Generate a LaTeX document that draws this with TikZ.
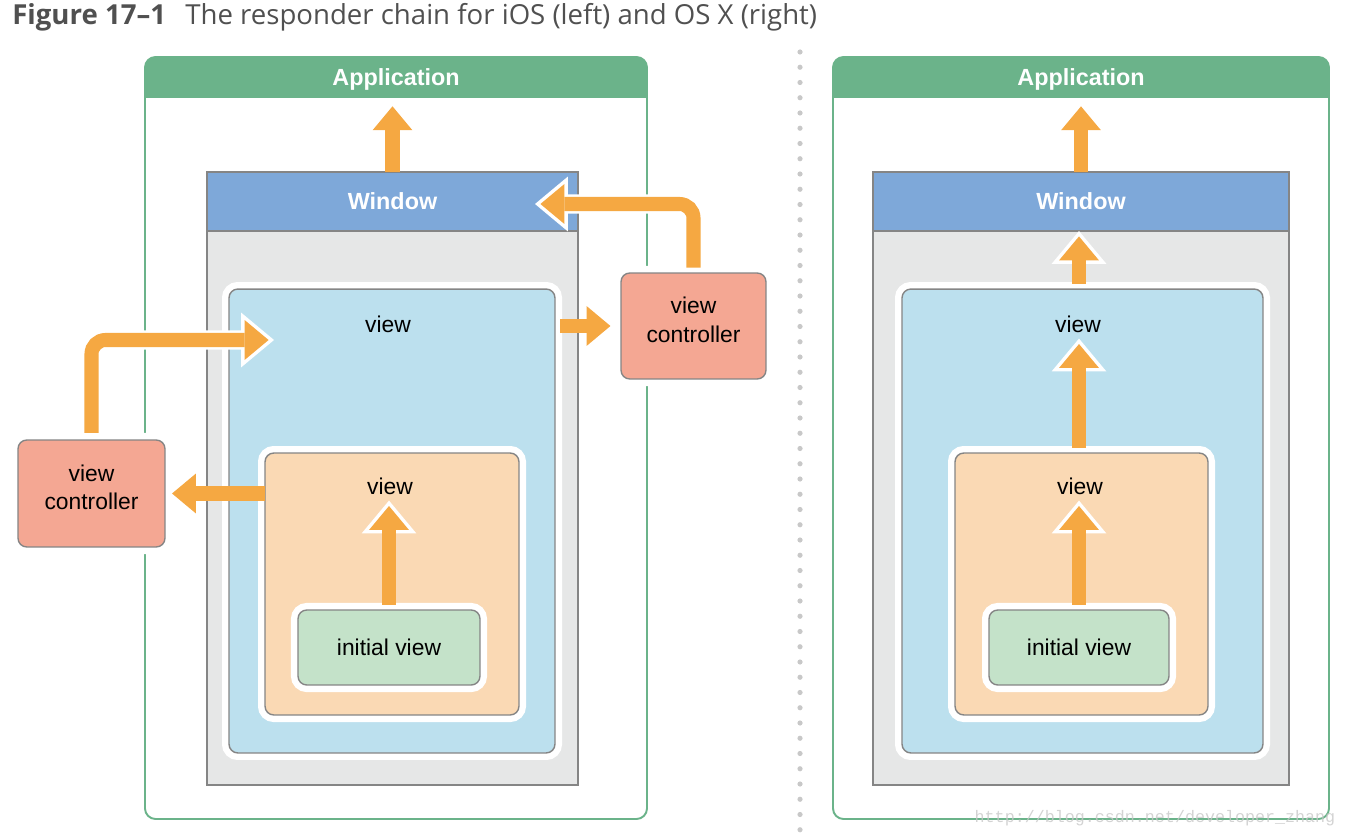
\documentclass[tikz,border=0pt]{standalone}
\usepackage{fontspec}
\setmainfont{Liberation Sans}
\newfontfamily\titlefont{Open Sans}
\newfontfamily\markfont{Liberation Mono}
\usetikzlibrary{arrows.meta}

\definecolor{appgreen}{HTML}{6BB38A}
\definecolor{winblue}{HTML}{7EA8D9}
\definecolor{wingray}{HTML}{E6E7E7}
\definecolor{boxgray}{HTML}{858585}
\definecolor{viewblue}{HTML}{BCE0EE}
\definecolor{peach}{HTML}{FAD9B4}
\definecolor{initgreen}{HTML}{C4E2C9}
\definecolor{salmon}{HTML}{F4A793}
\definecolor{arrowc}{HTML}{F5A842}
\definecolor{dotgray}{HTML}{C8C8C8}
\definecolor{titlegray}{HTML}{505050}

\newcommand{\vclabel}{\raisebox{2pt}[\height][\depth]{\begin{tabular}{@{}c@{}}view\\controller\end{tabular}}}

\tikzset{
  appframe/.style={draw=appgreen, line width=1.1pt, rounded corners=6pt},
  apptext/.style={text=white, font=\bfseries\fontsize{13.3}{16}\selectfont, minimum height=1.08cm, inner sep=0pt},
  winbody/.style={draw=boxgray, fill=wingray, line width=1.1pt},
  winhead/.style={draw=boxgray, fill=winblue, line width=1.1pt, text=white, font=\bfseries\fontsize{13.3}{16}\selectfont, minimum height=1.18cm, inner sep=0pt, outer sep=0pt},
  box/.style={draw=boxgray, line width=0.8pt, rounded corners=5pt, inner sep=0pt, outer sep=0pt, align=center,
    font=\fontsize{13}{16.2}\selectfont, preaction={draw=white, line width=8pt}},
  txt/.style={font=\fontsize{13}{16}\selectfont},
  flow/.style={draw=arrowc, line width=8pt, -{Triangle[width=22.7pt,length=13.6pt,line width=0pt]}},
  flowhalo/.style={flow, shorten >=3.1pt, preaction={draw=white, line width=#1, shorten >=0pt,
    -{Triangle[width=31.2pt,length=18.7pt,line width=0pt]}}},
  flowhalo/.default=8pt
}

\begin{document}
\begin{tikzpicture}[x=0.02cm,y=-0.02cm]
\useasboundingbox (0,0) rectangle (1346,838);
\node[anchor=base west, inner sep=0pt, text=titlegray, font=\titlefont\fontsize{15.7}{18}\selectfont] (title) at (12,24.5)
  {\textbf{Figure 17–1}\hspace{0.7em}The responder chain for iOS (left) and OS X (right)};

% divider
\foreach \k in {0,...,51}
  \fill[dotgray] (800,52+15.25*\k) circle (2.6);

% iOS
\fill[appgreen, rounded corners=6pt] (145,57) rectangle (647,110);
\fill[white] (146,98) rectangle (646,112);
\draw[appframe] (145,57) rectangle (647,819);
\node[apptext] (appL) at (396,79) {Application};
\draw[winbody] (207,172) rectangle (578,785);
\node[winhead, minimum width=7.42cm] (winL) at (392.5,201.5) {Window};
\node[box, fill=viewblue, minimum width=6.52cm, minimum height=9.28cm] (viewL) at (392,521) {};
\node[txt] (viewLtxt) at (388,324) {view};
\node[box, fill=peach, minimum width=5.08cm, minimum height=5.24cm] (peachL) at (392,584) {};
\node[txt] (peachLtxt) at (390,486) {view};
\node[box, fill=initgreen, minimum width=3.64cm, minimum height=1.5cm] (iniL) at (389,647.5) {initial view};
\node[box, fill=salmon, minimum width=2.9cm, minimum height=2.12cm] (vcR) at (693.5,326) {\vclabel};
\node[box, fill=salmon, minimum width=2.94cm, minimum height=2.14cm] (vcL) at (91.5,493.5) {\vclabel};
\coordinate (tipWin) at (535,204);
\coordinate (tipView) at (274,340);

\draw[flow] (winL.north) -- (winL.north |- appL.south);
\draw[flowhalo, shorten <=3pt] (iniL.north) -- (iniL.north |- peachLtxt.south);
\draw[flow, shorten <=3pt, shorten >=6pt] (viewL.east |- vcR) -- (vcR.west);
\draw[flowhalo=11pt, rounded corners=8pt, shorten <=3pt] (vcR.north) |- (tipWin);
\draw[flowhalo=11pt, rounded corners=8pt, shorten <=4pt] (vcL.north) |- (tipView);
\draw[flow, shorten >=4pt] (peachL.west |- vcL) -- (vcL.east);

% OS X
\fill[appgreen, rounded corners=6pt] (833,57) rectangle (1329,110);
\fill[white] (834,98) rectangle (1328,112);
\draw[appframe] (833,57) rectangle (1329,819);
\node[apptext] (appR) at (1081,79) {Application};
\draw[winbody] (873,172) rectangle (1289,785);
\node[winhead, minimum width=8.32cm] (winR) at (1081,201.5) {Window};
\node[box, fill=viewblue, minimum width=7.22cm, minimum height=9.28cm] (viewR) at (1082.5,521) {};
\node[txt] (viewRtxt) at (1078,324) {view};
\node[box, fill=peach, minimum width=5.06cm, minimum height=5.24cm] (peachR) at (1081.5,584) {};
\node[txt] (peachRtxt) at (1080,486) {view};
\node[box, fill=initgreen, minimum width=3.6cm, minimum height=1.5cm] (iniR) at (1079,647.5) {initial view};

\draw[flow] (winR.north) -- (winR.north |- appR.south);
\draw[flowhalo, shorten <=3pt] (viewR.north -| iniR) -- (iniR |- winR.south);
\draw[flowhalo, shorten <=3pt] (peachR.north -| iniR) -- (iniR |- viewRtxt.south);
\draw[flowhalo, shorten <=3pt] (iniR.north) -- (iniR.north |- peachRtxt.south);

\node[text=dotgray, opacity=0.8, font=\markfont\fontsize{9.5}{11}\selectfont] (mark) at (1155,818) {http://blog.csdn.net/developer\_zhang};
\end{tikzpicture}
\end{document}
